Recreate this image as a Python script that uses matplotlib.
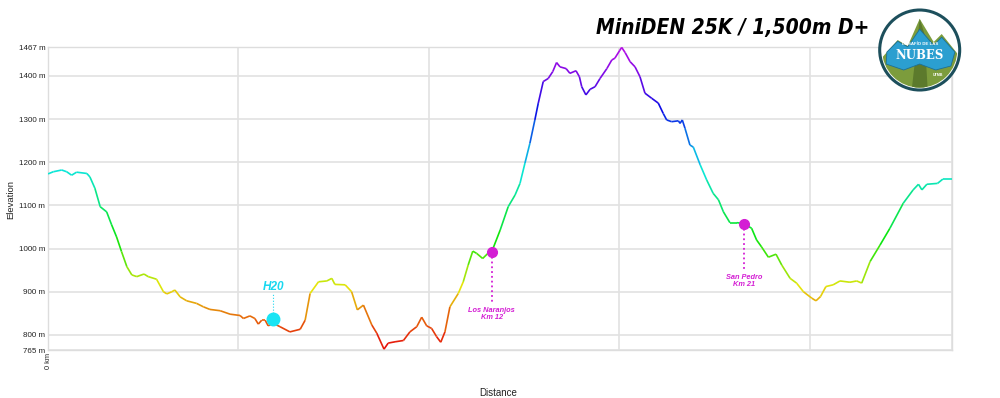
import numpy as np
import matplotlib
matplotlib.use('Agg')
import matplotlib.pyplot as plt
from matplotlib.collections import LineCollection
from matplotlib.colors import hsv_to_rgb
from matplotlib.patches import Circle, Polygon

plt.rcParams['font.family'] = ['Liberation Sans', 'DejaVu Sans']

# elevation profile (km, m)
dist_km = [0.0, 0.14, 0.36, 0.49, 0.62, 0.75, 1.02, 1.10, 1.23, 1.37,
           1.54, 1.67, 1.80, 1.93, 2.07, 2.20, 2.33, 2.52, 2.63, 2.85,
           3.03, 3.12, 3.25, 3.33, 3.47, 3.64, 3.90, 4.08, 4.25, 4.52,
           4.78, 5.04, 5.13, 5.30, 5.43, 5.52, 5.61, 5.70, 5.78, 5.91,
           6.09, 6.35, 6.62, 6.75, 6.88, 7.10, 7.32, 7.45, 7.53, 7.80,
           7.97, 8.12, 8.28, 8.50, 8.63, 8.82, 8.93, 9.11, 9.33, 9.50,
           9.68, 9.81, 9.94, 10.07, 10.20, 10.31, 10.42, 10.55, 10.77, 10.90,
           11.03, 11.15, 11.25, 11.41, 11.56, 11.65, 11.87, 12.08, 12.26, 12.39,
           12.52, 12.65, 12.78, 12.87, 13.00, 13.13, 13.25, 13.35, 13.44, 13.60,
           13.70, 13.86, 13.95, 14.01, 14.12, 14.23, 14.36, 14.49, 14.67, 14.80,
           14.88, 15.00, 15.06, 15.15, 15.28, 15.41, 15.54, 15.67, 15.85, 16.02,
           16.15, 16.24, 16.37, 16.55, 16.59, 16.65, 16.72, 16.85, 16.94, 17.12,
           17.29, 17.46, 17.60, 17.73, 17.90, 18.08, 18.27, 18.47, 18.60, 18.73,
           18.91, 19.11, 19.26, 19.48, 19.65, 19.83, 20.05, 20.16, 20.28, 20.42,
           20.61, 20.79, 21.05, 21.23, 21.36, 21.58, 21.84, 22.10, 22.45, 22.71,
           22.85, 22.94, 23.07, 23.35, 23.49, 23.72]
elev_m = [1173, 1178, 1182, 1178, 1170, 1177, 1174, 1166, 1140, 1097,
          1085, 1055, 1027, 993, 958, 939, 935, 941, 935, 929,
          900, 895, 900, 904, 888, 879, 873, 865, 859, 856,
          848, 845, 838, 844, 838, 825, 834, 834, 821, 827,
          819, 807, 813, 834, 896, 923, 925, 931, 917, 916,
          900, 858, 869, 823, 804, 767, 781, 784, 787, 807,
          819, 841, 821, 815, 796, 783, 807, 865, 896, 923,
          962, 994, 989, 977, 990, 993, 1043, 1097, 1124, 1151,
          1198, 1244, 1298, 1337, 1387, 1394, 1410, 1431, 1421, 1417,
          1406, 1412, 1398, 1375, 1356, 1369, 1375, 1394, 1417, 1437,
          1441, 1458, 1466, 1454, 1433, 1421, 1398, 1360, 1348, 1337,
          1313, 1298, 1294, 1296, 1290, 1298, 1279, 1240, 1235, 1194,
          1159, 1128, 1113, 1085, 1060, 1060, 1058, 1047, 1020, 1004,
          980, 987, 962, 931, 920, 900, 885, 879, 889, 912,
          916, 925, 922, 925, 920, 970, 1008, 1047, 1105, 1136,
          1149, 1136, 1149, 1151, 1161, 1161]

total_km = 23.73
y_min, y_max = 765, 1467
y_ticks = [765, 800, 900, 1000, 1100, 1200, 1300, 1400, 1467]
x_grid = [0, 5, 10, 15, 20, total_km]

# colour ramp: elevation -> hue
ramp_m = [770, 830, 900, 1000, 1180, 1300, 1400, 1467]
ramp_hue = [0.0, 0.06, 0.15, 0.31, 0.49, 0.64, 0.75, 0.80]

# points of interest
water_km, water_m = 5.91, 837
poi_names = ['Los Naranjos\nKm 12', 'San Pedro\nKm 21']
poi_km = [11.65, 18.27]
poi_m = [993, 1058]
poi_line_end = [874, 950]

fig = plt.figure(figsize=(10, 3.98), dpi=100)
ax = fig.add_axes([0.048, 0.1206, 0.904, 0.7613])

x = np.array(dist_km)
y = np.array(elev_m)
pts = np.column_stack([x, y]).reshape(-1, 1, 2)
segs = np.concatenate([pts[:-1], pts[1:]], axis=1)
mid = (y[:-1] + y[1:]) / 2
hue = np.interp(mid, ramp_m, ramp_hue)
colors = hsv_to_rgb(np.column_stack([hue, np.full_like(hue, 0.95), np.full_like(hue, 0.9)]))
lc = LineCollection(segs, colors=colors, linewidths=1.2, zorder=3)
ax.add_collection(lc)

ax.set_xlim(0, total_km)
ax.set_ylim(y_min, y_max)
ax.set_yticks(y_ticks)
ax.set_yticklabels(['{} m'.format(t) for t in y_ticks], fontsize=5.8, color='#222222')
ax.set_xticks(x_grid)
ax.set_xticklabels(['0 km'] + [''] * (len(x_grid) - 1), rotation=90, fontsize=5.3, color='#222222')
ax.tick_params(length=0, pad=2)
ax.grid(True, color='#e2e2e2', lw=1.2, zorder=0)
for s in ax.spines.values():
    s.set_color('#dddddd')
    s.set_linewidth(1.0)
fig.text(0.011, 1 - 200 / 398, 'Elevation', fontsize=6.8, color='#222222',
         rotation=90, ha='center', va='center')
fig.text(0.498, 1 - 393 / 398, 'Distance', fontsize=7, color='#222222',
         ha='center', va='center')

# water point
ax.plot([water_km, water_km], [water_m, 897], ls=':', color='#20d8f0', lw=0.8, zorder=4)
ax.plot(water_km, water_m, 'o', color='#18e4f4', ms=9, zorder=5)
ax.text(water_km, 912, 'H20', color='#18d8f0', fontsize=8.5, fontweight='bold',
        fontstyle='italic', ha='center', va='center', zorder=5)

for name, km, m, end in zip(poi_names, poi_km, poi_m, poi_line_end):
    ax.plot([km, km], [m, end], ls=':', color='#d41ed4', lw=1.3, zorder=4)
    ax.plot(km, m, 'o', color='#d41ed4', ms=7, zorder=5)
    ax.text(km, end - 9, name, color='#d41ed4', fontsize=5.3, fontweight='bold',
            fontstyle='italic', ha='center', va='top', linespacing=1.0, zorder=5)

fig.text(0.733, 0.93, 'MiniDEN 25K / 1,500m D+', fontsize=15, fontweight='bold',
         fontstyle='italic', fontstretch='condensed', family='DejaVu Sans',
         ha='center', va='center', color='black')

# logo
lx = fig.add_axes([0.8757, 0.7638, 0.088, 0.2211])
lx.set_xlim(-1.1, 1.1)
lx.set_ylim(-1.1, 1.1)
lx.set_aspect('equal')
lx.axis('off')
lx.add_patch(Circle((0, 0), 1.0, facecolor='white', edgecolor='#1d4f5c', lw=2.2, zorder=1))
clip = Circle((0, 0), 0.94, transform=lx.transData)
mount = Polygon([(-0.95, -0.2), (-0.55, 0.25), (-0.3, 0.1), (0.0, 0.78), (0.35, 0.2),
                 (0.55, 0.4), (0.95, -0.1), (0.95, -1), (-0.95, -1)],
                facecolor='#7c9c3c', edgecolor='none', zorder=2)
lx.add_patch(mount)
mount.set_clip_path(clip)
shade = Polygon([(-0.2, -1), (0.0, 0.78), (0.12, 0.4), (0.2, -1)],
                facecolor='#5c7a2c', edgecolor='none', zorder=2)
lx.add_patch(shade)
shade.set_clip_path(clip)
banner = Polygon([(-0.82, -0.05), (-0.55, 0.22), (-0.3, 0.08), (0.0, 0.52), (0.35, 0.12),
                  (0.55, 0.32), (0.88, -0.05), (0.78, -0.4), (0.4, -0.5), (0.0, -0.35),
                  (-0.4, -0.5), (-0.84, -0.35)],
                 facecolor='#2b9fd0', edgecolor='#1d6f94', lw=0.6, zorder=3)
lx.add_patch(banner)
lx.text(0.0, 0.14, 'DESAFÍO DE LAS', color='white', fontsize=3.2, fontweight='bold',
        ha='center', va='center', zorder=4)
lx.text(0.0, -0.14, 'NUBES', color='white', fontsize=8.5, fontweight='bold',
        family='DejaVu Serif', ha='center', va='center', zorder=4)
lx.text(0.45, -0.62, 'UTMB', color='white', fontsize=2.5, fontweight='bold',
        ha='center', va='center', zorder=4)

fig.savefig('out.png', dpi=100)
